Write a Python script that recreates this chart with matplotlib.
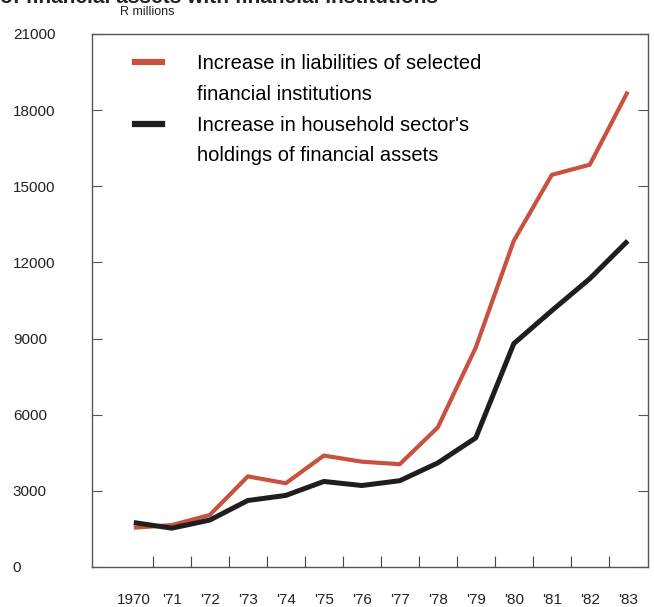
import numpy as np
import matplotlib
matplotlib.use("Agg")
import matplotlib.pyplot as plt
from matplotlib.lines import Line2D
from matplotlib.ticker import FixedLocator

plt.rcParams["font.family"] = ["Liberation Sans", "DejaVu Sans"]

# ---- data (R millions) ----
years = np.arange(1970, 1984)
year_labels = ["1970", "'71", "'72", "'73", "'74", "'75", "'76",
               "'77", "'78", "'79", "'80", "'81", "'82", "'83"]
liabilities = [1550, 1650, 2050, 3570, 3300, 4390, 4150,
               4050, 5500, 8650, 12850, 15450, 15850, 18730]
household = [1750, 1530, 1850, 2620, 2820, 3370, 3210,
             3400, 4100, 5090, 8800, 10100, 11360, 12850]
y_ticks = [0, 3000, 6000, 9000, 12000, 15000, 18000, 21000]

RED = "#c9513f"
BLACK = "#1e1e1e"

fig = plt.figure(figsize=(6.54, 6.07), dpi=100)
ax = fig.add_axes([0.1407, 0.0659, 0.85, 0.8781])

ax.plot(years, household, color=BLACK, lw=3.6, solid_capstyle="butt", zorder=3)
ax.plot(years, liabilities, color=RED, lw=3.0, solid_capstyle="butt", zorder=2)

ax.set_xlim(1968.9, 1983.53)
ax.set_ylim(0, 21000)

# y axis: labels far left, inward ticks on both sides
ax.set_yticks(y_ticks)
ax.set_yticklabels([str(v) for v in y_ticks], fontsize=11, color="#222222")
ax.tick_params(axis="y", direction="in", length=7, width=0.8, color="#555555",
               pad=57, right=True)
for lab in ax.get_yticklabels():
    lab.set_horizontalalignment("left")

# x axis: labels at mid-year, tick marks at year boundaries
ax.set_xticks(years)
ax.set_xticklabels(year_labels, fontsize=11, color="#222222")
ax.tick_params(axis="x", which="major", length=0, pad=19)
ax.xaxis.set_minor_locator(FixedLocator(years[:-1] + 0.5))
ax.tick_params(axis="x", which="minor", direction="in", length=8, width=0.8,
               color="#444444")

for side in ["left", "right", "top", "bottom"]:
    ax.spines[side].set_color("#555555")
    ax.spines[side].set_linewidth(1.0)

# legend: one row per text line, key only on the first line of each entry
blank = Line2D([], [], linestyle="none")
handles = [Line2D([], [], color=RED, lw=4.5), blank,
           Line2D([], [], color=BLACK, lw=4.5), blank]
labels = ["Increase in liabilities of selected", "financial institutions",
          "Increase in household sector's", "holdings of financial assets"]
ax.legend(handles, labels, loc="upper left", bbox_to_anchor=(0.077, 0.962),
          frameon=False, fontsize=14.5, handlelength=1.35, handletextpad=1.75,
          labelspacing=0.58, borderaxespad=0, borderpad=0, handleheight=0.7)

fig.text(0.184, 0.980, "R millions", fontsize=9, ha="left", va="center", color="#222222")
fig.text(0.0, 1.004, "of financial assets with financial institutions", fontsize=15,
         fontweight="bold", ha="left", va="center", color="#222222")

fig.savefig("out.png", dpi=100, facecolor="white")
